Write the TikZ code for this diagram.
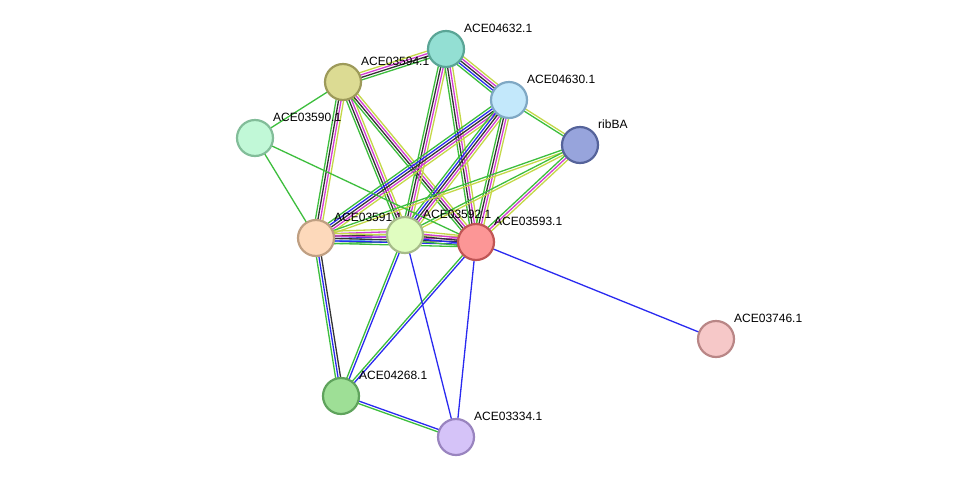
\documentclass[tikz,border=0pt]{standalone}
\usepackage{fontspec}
\setmainfont{Liberation Sans}
\usetikzlibrary{calc}
\definecolor{G}{HTML}{3DBE3D}
\definecolor{B}{HTML}{2A2AF0}
\definecolor{K}{HTML}{333333}
\definecolor{M}{HTML}{D23CD2}
\definecolor{Y}{HTML}{C4D848}
\definecolor{L}{HTML}{5AA8E8}
\newcommand{\medge}[4]{%
  \foreach \c [count=\i] in {#4} {%
    \pgfmathsetmacro{\off}{(\i-(#3+1)/2)*2.5}%
    \draw[line width=1.3pt,\c] ($(#1)!\off pt!90:(#2)$) -- ($(#2)!\off pt!-90:(#1)$);
  }}
\tikzset{prot/.style={circle,minimum size=36pt,inner sep=0pt,line width=2.2pt},
  lab/.style={anchor=west,font=\fontsize{12pt}{12pt}\selectfont,inner sep=0pt}}
\begin{document}
\begin{tikzpicture}[x=1pt,y=-1pt]
\useasboundingbox (0,0) rectangle (975,483);
\fill[white] (0,0) rectangle (975,483);
\coordinate (c4632) at (446,49);
\coordinate (c3594) at (343,82);
\coordinate (c4630) at (509,100);
\coordinate (cribBA) at (580,145);
\coordinate (c3590) at (255,138);
\coordinate (c3591) at (316,238);
\coordinate (c3592) at (405,235);
\coordinate (c3593) at (476,242);
\coordinate (c3746) at (716,339);
\coordinate (c4268) at (341,396);
\coordinate (c3334) at (456,437);
\medge{c3594}{c4632}{4}{G,K,M,Y}
\medge{c3594}{c3591}{4}{G,K,M,Y}
\medge{c3594}{c3592}{4}{G,K,M,Y}
\medge{c3594}{c3593}{4}{G,K,M,Y}
\medge{c3594}{c3590}{1}{G}
\medge{c4632}{c4630}{5}{G,B,K,M,Y}
\medge{c4632}{c3592}{4}{G,K,M,Y}
\medge{c4632}{c3593}{4}{G,K,M,Y}
\medge{c4630}{c3591}{5}{G,B,K,M,Y}
\medge{c4630}{c3592}{5}{G,B,K,M,Y}
\medge{c4630}{c3593}{4}{G,K,M,Y}
\medge{c4630}{cribBA}{2}{G,Y}
\medge{cribBA}{c3591}{2}{G,Y}
\medge{cribBA}{c3592}{2}{G,Y}
\medge{cribBA}{c3593}{3}{G,M,Y}
\medge{c3590}{c3591}{1}{G}
\medge{c3590}{c3593}{1}{G}
\medge{c3591}{c3592}{6}{G,L,B,K,M,Y}
\medge{c3591}{c3593}{5}{G,B,K,M,Y}
\medge{c3592}{c3593}{5}{G,B,K,M,Y}
\medge{c3591}{c4268}{3}{G,B,K}
\medge{c3592}{c4268}{2}{G,B}
\medge{c3593}{c4268}{2}{G,B}
\medge{c3592}{c3334}{1}{B}
\medge{c3593}{c3334}{1}{B}
\medge{c4268}{c3334}{2}{G,B}
\medge{c3593}{c3746}{1}{B}
\def\pn#1#2#3#4{\node[prot,fill={[HTML]#3},draw={[HTML]#4}] (#1) at (c#1) {};
  \node[lab] (l#1) at ($(c#1)+(18,-21)$) {#2};}
\definecolor{f1}{HTML}{93DFD3}\definecolor{s1}{HTML}{5AA596}
\definecolor{f2}{HTML}{DCDB93}\definecolor{s2}{HTML}{9D9A5A}
\definecolor{f3}{HTML}{C3E8FB}\definecolor{s3}{HTML}{7FA8C4}
\definecolor{f4}{HTML}{97A4DC}\definecolor{s4}{HTML}{55639A}
\definecolor{f5}{HTML}{C1F8D7}\definecolor{s5}{HTML}{82BD99}
\definecolor{f6}{HTML}{FDD9BB}\definecolor{s6}{HTML}{BF9F82}
\definecolor{f7}{HTML}{E0FDC0}\definecolor{s7}{HTML}{A6BB89}
\definecolor{f8}{HTML}{FC9696}\definecolor{s8}{HTML}{C05555}
\definecolor{f9}{HTML}{F6C8C8}\definecolor{s9}{HTML}{B98686}
\definecolor{f10}{HTML}{9EDF96}\definecolor{s10}{HTML}{5FA35C}
\definecolor{f11}{HTML}{D5C3F8}\definecolor{s11}{HTML}{9984BF}
\foreach \n/\t/\k in {4632/ACE04632.1/1,3594/ACE03594.1/2,4630/ACE04630.1/3,ribBA/ribBA/4,3590/ACE03590.1/5,3591/ACE03591.1/6,3592/ACE03592.1/7,3593/ACE03593.1/8,3746/ACE03746.1/9,4268/ACE04268.1/10,3334/ACE03334.1/11}{
  \node[prot,fill=f\k,draw=s\k] (\n) at (c\n) {};
  \node[lab] (l\n) at ($(c\n)+(18,-21)$) {\t};
}
\end{tikzpicture}
\end{document}
